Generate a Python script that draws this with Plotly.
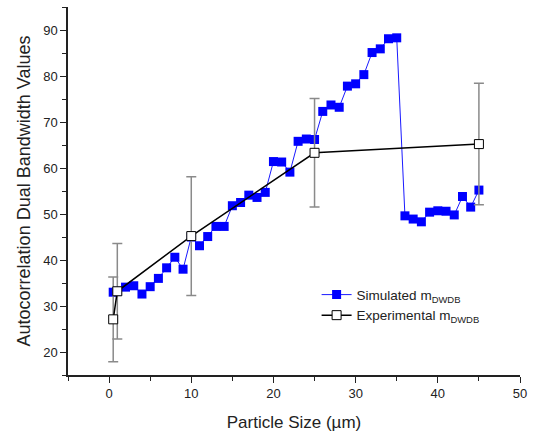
import plotly.graph_objects as go

# Simulated m_DWDB, sampled every 1 µm (first point at 0.5 µm)
sim_size = [0.5, 1, 2, 3, 4, 5, 6, 7, 8, 9, 10, 11, 12, 13, 14, 15, 16, 17, 18, 19,
            20, 21, 22, 23, 24, 25, 26, 27, 28, 29, 30, 31, 32, 33, 34, 35,
            36, 37, 38, 39, 40, 41, 42, 43, 44, 45]
sim_value = [33.0, 33.2, 34.1, 34.4, 32.6, 34.2, 36.0, 38.3, 40.6, 38.0, 45.0, 43.1, 45.1, 47.3, 47.3, 51.8, 52.5, 54.1, 53.6, 54.7,
             61.4, 61.3, 59.1, 65.8, 66.3, 66.2, 72.3, 73.7, 73.2, 77.8, 78.3, 80.3, 85.1, 85.9, 88.1, 88.3,
             49.6, 48.9, 48.3, 50.4, 50.7, 50.6, 49.8, 53.8, 51.5, 55.2]

# Experimental m_DWDB with measurement spread
exp_size = [0.5, 1, 10, 25, 45]
exp_value = [27.1, 33.2, 45.2, 63.3, 65.2]
exp_error = [9.2, 10.4, 12.9, 11.8, 13.2]

FONT = "Liberation Sans, Arial, sans-serif"

fig = go.Figure()

fig.add_trace(go.Scatter(
    x=sim_size, y=sim_value, mode="lines+markers",
    name="Simulated m<sub>DWDB</sub>",
    line=dict(color="#1a1aff", width=1),
    marker=dict(symbol="square", size=9, color="#0000ff", line=dict(width=0)),
))

fig.add_trace(go.Scatter(
    x=exp_size, y=exp_value, mode="lines+markers",
    name="Experimental m<sub>DWDB</sub>",
    line=dict(color="black", width=1.5),
    marker=dict(symbol="square", size=9, color="white", line=dict(color="black", width=1)),
    error_y=dict(type="data", array=exp_error, visible=True, color="#8a8a8a", thickness=1.5, width=5),
))

axis_common = dict(
    showline=True, linecolor="#222222", linewidth=1.5, mirror=False,
    showgrid=False, zeroline=False,
    ticks="outside", tickcolor="#222222", tickwidth=1.2, ticklen=6,
    tickfont=dict(family=FONT, size=13, color="#222222"),
)

fig.update_xaxes(
    range=[-5, 50], tick0=0, dtick=10,
    minor=dict(tick0=-5, dtick=5, ticks="outside", ticklen=4, tickcolor="#222222", tickwidth=1.2),
    title=dict(text="Particle Size (µm)", standoff=16,
               font=dict(family=FONT, size=17, color="#222222")),
    **axis_common,
)
fig.update_yaxes(
    range=[15, 95], tick0=0, dtick=10,
    minor=dict(tick0=15, dtick=5, ticks="outside", ticklen=4, tickcolor="#222222", tickwidth=1.2),
    title=dict(text="Autocorrelation Dual Bandwidth Values", standoff=8,
               font=dict(family=FONT, size=18, color="#222222")),
    **axis_common,
)

fig.update_layout(
    width=534, height=436,
    margin=dict(l=68, r=10, t=7, b=61),
    paper_bgcolor="white", plot_bgcolor="white",
    showlegend=True,
    legend=dict(
        x=0.55, y=0.26, xanchor="left", yanchor="top",
        bgcolor="rgba(0,0,0,0)", borderwidth=0,
        font=dict(family=FONT, size=13.5, color="#222222"),
        tracegroupgap=0,
    ),
)

fig.write_html("out.html")
